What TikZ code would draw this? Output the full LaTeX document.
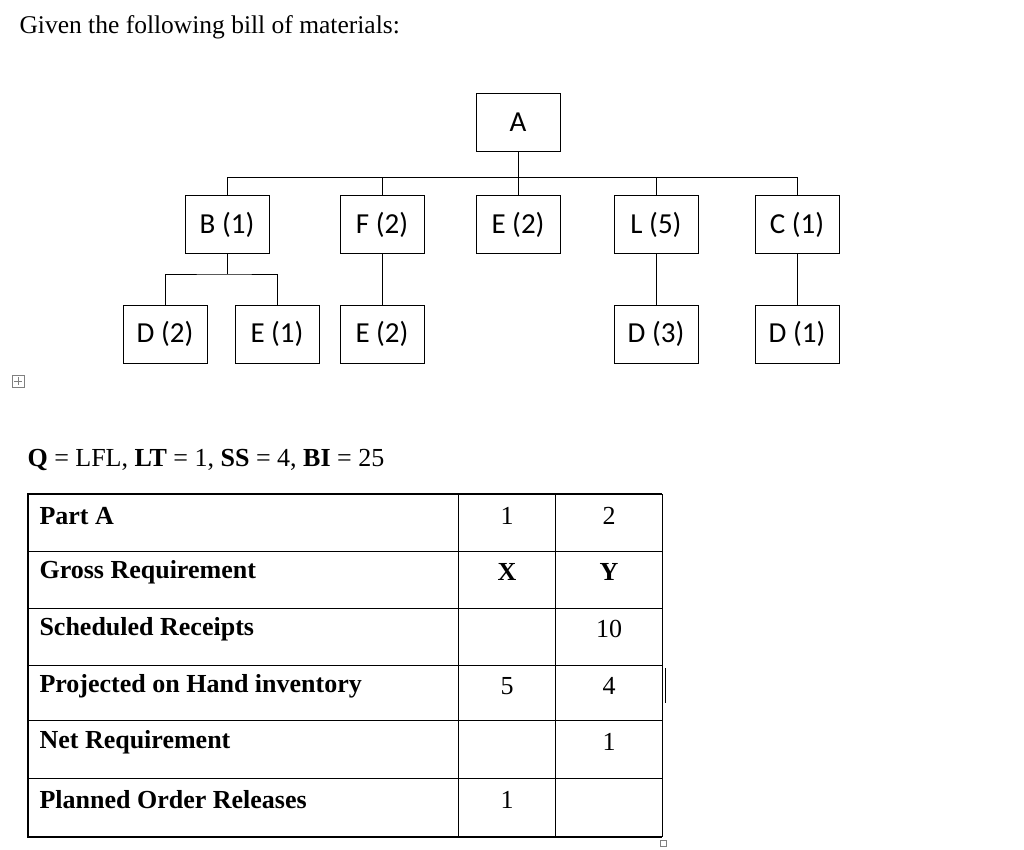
\documentclass[tikz,border=0pt]{standalone}
\usepackage{fontspec}
\setmainfont{Liberation Serif}
\newfontfamily\boxfont{Carlito}
\begin{document}
\begin{tikzpicture}[x=1pt,y=-1pt,
  bom/.style={draw,line width=0.8pt,minimum width=84pt,minimum height=58pt,inner sep=0pt,font=\boxfont\fontsize{29}{32}\selectfont},
  lbl/.style={anchor=west,font=\bfseries\fontsize{26}{30}\selectfont},
  num/.style={font=\fontsize{26}{30}\selectfont}]
\useasboundingbox (0,0) rectangle (1024,850);
\node[anchor=west,font=\fontsize{25.5}{30}\selectfont] (title) at (16,27) {Given the following bill of materials:};
% BOM
\node[bom] (A) at (518,122) {A};
\node[bom] (B) at (227,224.5) {B (1)};
\node[bom] (F) at (382,224.5) {F (2)};
\node[bom] (E2) at (518,224.5) {E (2)};
\node[bom] (L) at (656,224.5) {L (5)};
\node[bom] (C) at (797,224.5) {C (1)};
\node[bom] (D2) at (165,334) {D (2)};
\node[bom] (E1) at (277,334) {E (1)};
\node[bom] (E2b) at (382,334) {E (2)};
\node[bom] (D3) at (656,334) {D (3)};
\node[bom] (D1) at (797,334) {D (1)};
\begin{scope}[line width=0.8pt]
\coordinate (hb) at (518,177);
\draw (A.south) -- (E2.north);
\draw (B.north) |- (C.north |- hb) -- (C.north);
\draw (F.north) -- (F.north |- hb);
\draw (L.north) -- (L.north |- hb);
\coordinate (bb) at (227,274);
\draw (B.south) -- (bb);
\draw (D2.north) |- (bb) -| (E1.north);
\draw (F.south) -- (E2b.north);
\draw (L.south) -- (D3.north);
\draw (C.south) -- (D1.north);
\end{scope}
% handle icon
\draw[gray,line width=0.6pt] (12,375) rectangle (24,387);
\draw[gray,line width=0.6pt] (18,377) -- (18,385) (14,381) -- (22,381);
\node[anchor=west,font=\fontsize{26}{30}\selectfont] (q) at (24,460) {\textbf{Q} = LFL, \textbf{LT} = 1, \textbf{SS} = 4, \textbf{BI} = 25};
% table
\draw[line width=0.8pt] (28,551) -- (662,551) (28,608) -- (662,608) (28,665) -- (662,665) (28,720) -- (662,720) (28,778) -- (662,778);
\draw[line width=0.8pt] (458,494) -- (458,837) (555,494) -- (555,837) (662,494) -- (662,837);
\draw[line width=2pt] (662,494) -- (28,494) -- (28,837) -- (662,837);
\draw[line width=0.8pt] (665,668) -- (665,703);
\draw[gray,line width=0.5pt] (660,840) rectangle (666,846);
\node[lbl] (r1) at (36,516) {Part A};
\node[lbl] (r2) at (36,572) {Gross Requirement};
\node[lbl] (r3) at (36,629) {Scheduled Receipts};
\node[lbl] (r4) at (36,686) {Projected on Hand inventory};
\node[lbl] (r5) at (36,742) {Net Requirement};
\node[lbl] (r6) at (36,800) {Planned Order Releases};
\node[num] at (507,516) {1};
\node[num] at (609,516) {2};
\node[num] at (507,572) {\textbf{X}};
\node[num] at (609,572) {\textbf{Y}};
\node[num] at (609,629) {10};
\node[num] at (507,686) {5};
\node[num] at (609,686) {4};
\node[num] at (609,742) {1};
\node[num] at (507,800) {1};
\end{tikzpicture}
\end{document}
